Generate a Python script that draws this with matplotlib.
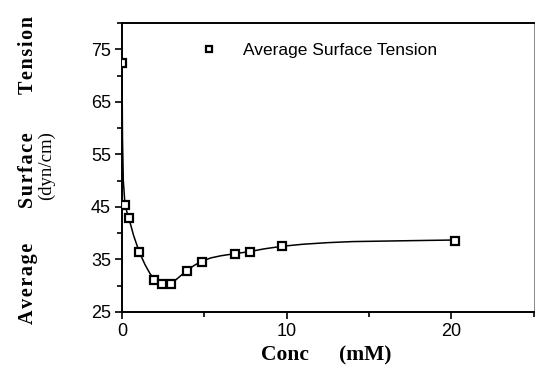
import matplotlib.pyplot as plt
from matplotlib.ticker import MultipleLocator

# measured points (Conc in mM, surface tension in dyn/cm)
conc = [0.0, 0.18, 0.44, 1.05, 1.95, 2.43, 3.0, 3.94, 4.87, 6.84, 7.77, 9.7, 20.2]
tension = [72.3, 45.3, 42.8, 36.4, 31.0, 30.3, 30.3, 32.8, 34.6, 36.0, 36.4, 37.5, 38.6]

# smooth guide curve
fit_x = [0.0, 0.03, 0.08, 0.18, 0.3, 0.44, 0.7, 1.05, 1.4, 1.7, 2.0, 2.3, 2.6, 3.0,
         3.3, 3.6, 3.94, 4.4, 4.87, 5.4, 6.0, 6.84, 7.77, 8.6, 9.7, 11.0, 12.5,
         14.0, 16.0, 18.0, 20.2]
fit_y = [72.3, 58.0, 50.0, 45.5, 44.0, 42.6, 39.6, 36.4, 34.0, 32.3, 31.1, 30.5,
         30.3, 30.5, 31.2, 32.0, 32.9, 33.9, 34.7, 35.3, 35.7, 36.1, 36.5, 37.0,
         37.5, 37.9, 38.2, 38.4, 38.5, 38.6, 38.7]

fig = plt.figure(figsize=(5.36, 3.75), dpi=100)
ax = fig.add_axes([0.2276, 0.168, 0.7684, 0.7707])

ax.plot(fit_x, fit_y, color='black', lw=1.1, zorder=2)
ax.plot(conc, tension, linestyle='none', marker='s', markersize=5.8,
        markerfacecolor='white', markeredgecolor='black', markeredgewidth=1.6,
        zorder=3, label='Average Surface Tension')

ax.set_xlim(0, 25)
ax.set_ylim(25, 80)
ax.xaxis.set_major_locator(MultipleLocator(10))
ax.xaxis.set_minor_locator(MultipleLocator(5))
ax.set_yticks([25, 35, 45, 55, 65, 75])
ax.set_yticks([30, 40, 50, 60, 70, 80], minor=True)
ax.tick_params(which='both', direction='out', width=1.2, color='black')
ax.tick_params(which='major', length=5, labelsize=13, pad=3)
ax.tick_params(which='minor', length=3.5)
for lab in ax.get_xticklabels() + ax.get_yticklabels():
    lab.set_family('Liberation Sans')

for side in ['left', 'bottom', 'top']:
    ax.spines[side].set_linewidth(1.4)
ax.spines['right'].set_linewidth(0.7)
ax.spines['right'].set_color('#888888')

leg = ax.legend(loc='upper left', bbox_to_anchor=(0.13, 0.985), frameon=False,
                handletextpad=1.0, markerscale=0.85,
                prop={'family': 'Liberation Sans', 'size': 12.5})

serif = {'family': 'Liberation Serif', 'weight': 'bold', 'size': 15.5}
fig.text(0.532, 0.053, 'Conc', ha='center', va='center', **serif)
fig.text(0.681, 0.053, '(mM)', ha='center', va='center', **serif)


def spaced(word):
    return '\u200a'.join(word)


ylab = {'family': ['Liberation Serif', 'DejaVu Serif'], 'weight': 'bold',
        'size': 14.5, 'rotation': 90}
fig.text(0.052, 0.243, spaced('Average'), ha='center', va='center', **ylab)
fig.text(0.052, 0.547, spaced('Surface'), ha='center', va='center', **ylab)
fig.text(0.052, 0.853, spaced('Tension'), ha='center', va='center', **ylab)
fig.text(0.087, 0.558, '(dyn/cm)', ha='center', va='center',
         family='Liberation Serif', size=13.5, rotation=90)

fig.savefig('out.png', dpi=100)
